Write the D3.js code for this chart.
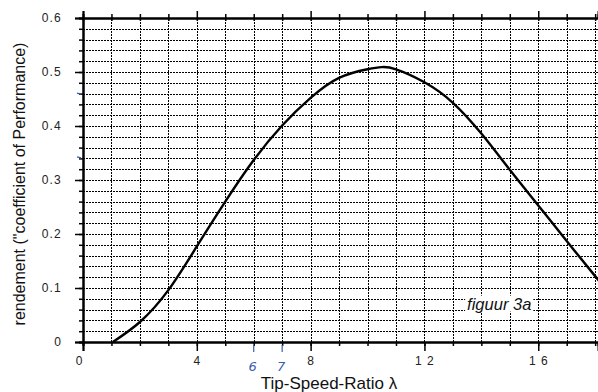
<!DOCTYPE html>
<html><head><meta charset="utf-8">
<script src="https://cdn.jsdelivr.net/npm/d3@7"></script>
<style>
html,body{margin:0;padding:0;background:#fff;}
svg{display:block;font-family:"Liberation Sans",Arial,sans-serif;}
</style></head>
<body>
<svg id="chart" width="598" height="392"></svg>
<script>
// ---- data ----
const lambda = [1.05, 2, 3, 4, 5, 6, 7, 8, 9, 10, 10.5, 11, 12, 13, 14, 15, 16, 17, 18, 18.1];
const cp     = [0, 0.037, 0.096, 0.177, 0.26, 0.337, 0.401, 0.452, 0.489, 0.505, 0.509, 0.505, 0.481, 0.443, 0.386, 0.319, 0.253, 0.187, 0.122, 0.1155];
const xMajorTicks = [0, 4, 8, 12, 16];
const xTickLabels = ["0", "4", "8", "1 2", "1 6"];
const yMajorTicks = [0, 0.1, 0.2, 0.3, 0.4, 0.5, 0.6];
const yTickLabels = ["0", "0.1", "0.2", "0.3", "0.4", "0.5", "0.6"];
const xTitle = "Tip-Speed-Ratio \u03bb";
const yTitle = "rendement (\"coefficient of Performance)";
const figLabel = "figuur 3a";
const handNotes = [{v: 6, t: "6"}, {v: 7, t: "7"}];
const handDashes = [0.459, 0.341];

const svg = d3.select("#chart");
const x = d3.scaleLinear().domain([0, 18.1]).range([83, 598]);
const y = d3.scaleLinear().domain([0, 0.6]).range([342, 18]);

const xMinor = d3.range(0, 19, 1);
const yMinor = d3.range(0, 31).map(i => +(i * 0.02).toFixed(2));

// grid
const grid = svg.append("g").attr("stroke", "#000").attr("stroke-width", 1)
  .attr("stroke-dasharray", "2,1").attr("fill", "none").attr("shape-rendering", "crispEdges");
grid.selectAll(".hg").data(yMinor.filter(v => v > 0 && v < 0.6)).join("line")
  .attr("x1", x(0)).attr("x2", x(18.1)).attr("y1", d => Math.round(y(d)) + 0.5).attr("y2", d => Math.round(y(d)) + 0.5);
grid.selectAll(".vg").data(xMinor.filter(v => v > 0)).join("line")
  .attr("y1", y(0)).attr("y2", y(0.6)).attr("x1", d => Math.round(x(d)) + 0.5).attr("x2", d => Math.round(x(d)) + 0.5);

// figure label with white background
const fl = svg.append("g");
const flText = fl.append("text").attr("x", x(13.5)).attr("y", y(0.06))
  .attr("font-size", 16.5).attr("font-style", "italic").attr("fill", "#111").text(figLabel);
const bb = flText.node().getBBox();
fl.insert("rect", "text").attr("x", bb.x - 2).attr("y", bb.y + 1).attr("width", bb.width + 4)
  .attr("height", bb.height - 2).attr("fill", "#fff");

// axes
function styleAxis(g) {
  g.selectAll("path.domain").attr("stroke", "#000").attr("stroke-width", 2);
  g.selectAll(".tick line").attr("stroke", "#000").attr("stroke-width", 1.5);
}
// left minor
svg.append("g").attr("transform", `translate(${x(0)},0)`)
  .call(d3.axisLeft(y).tickValues(yMinor).tickSize(4).tickFormat(""))
  .call(styleAxis);
// left major
svg.append("g").attr("transform", `translate(${x(0)},0)`)
  .call(d3.axisLeft(y).tickValues(yMajorTicks).tickSize(8).tickPadding(13)
    .tickFormat((d, i) => yTickLabels[i]))
  .call(styleAxis)
  .call(g => g.selectAll("text").attr("font-size", 12).attr("letter-spacing", 1.2).attr("fill", "#222")
    .attr("font-family", "'Liberation Sans',Arial,sans-serif"));
// bottom minor
svg.append("g").attr("transform", `translate(0,${y(0)})`)
  .call(d3.axisBottom(x).tickValues(xMinor).tickSize(4).tickFormat(""))
  .call(styleAxis);
// bottom major
svg.append("g").attr("transform", `translate(0,${y(0)})`)
  .call(d3.axisBottom(x).tickValues(xMajorTicks).tickSize(9).tickPadding(5)
    .tickFormat((d, i) => xTickLabels[i]))
  .call(styleAxis)
  .call(g => g.selectAll("text").attr("font-size", 12).attr("fill", "#222").attr("letter-spacing", 1)
    .attr("font-family", "'Liberation Sans',Arial,sans-serif").style("white-space", "pre"))
  .call(g => g.selectAll(".tick").filter(d => d === 0).select("text").attr("dx", -4));
// top minor/major (crossing ticks)
svg.append("g").attr("transform", `translate(0,${y(0.6)})`)
  .call(d3.axisTop(x).tickValues(xMinor.filter(v => v % 4 !== 0)).tickSize(4).tickFormat(""))
  .call(styleAxis)
  .call(g => g.selectAll(".tick line").attr("y2", -4).attr("y1", 3));
svg.append("g").attr("transform", `translate(0,${y(0.6)})`)
  .call(d3.axisTop(x).tickValues(xMajorTicks).tickSize(7).tickFormat(""))
  .call(styleAxis)
  .call(g => g.selectAll(".tick line").attr("y2", -7).attr("y1", 3));

// curve
const pts = lambda.map((l, i) => [l, cp[i]]);
svg.append("path").datum(pts)
  .attr("fill", "none").attr("stroke", "#000").attr("stroke-width", 2.4)
  .attr("d", d3.line().x(d => x(d[0])).y(d => y(d[1])).curve(d3.curveNatural));

// axis titles
svg.append("text").attr("x", 329).attr("y", 388.5).attr("text-anchor", "middle")
  .attr("font-size", 17).attr("fill", "#111").text(xTitle);
svg.append("text").attr("transform", `translate(25,${(y(0) + y(0.6)) / 2 + 4}) rotate(-90)`)
  .attr("text-anchor", "middle").attr("font-size", 16).attr("fill", "#111").text(yTitle);

// handwritten blue annotations
const blue = "#3a5db0";
const hn = svg.append("g");
hn.selectAll("line").data(handNotes).join("line")
  .attr("x1", d => x(d.v)).attr("x2", d => x(d.v)).attr("y1", y(0) + 3).attr("y2", y(0) + 10)
  .attr("stroke", blue).attr("stroke-width", 1.2);
hn.selectAll("text").data(handNotes).join("text")
  .attr("x", d => x(d.v) - 1).attr("y", y(0) + 29).attr("text-anchor", "middle")
  .attr("font-size", 13).attr("font-style", "italic").attr("fill", blue)
  .attr("font-family", "'DejaVu Sans',sans-serif").text(d => d.t);
svg.append("g").selectAll("line").data(handDashes).join("line")
  .attr("x1", x(0) - 6).attr("x2", x(0) - 2).attr("y1", d => y(d) - 1).attr("y2", d => y(d))
  .attr("stroke", blue).attr("stroke-width", 1.5);
</script>
</body></html>
